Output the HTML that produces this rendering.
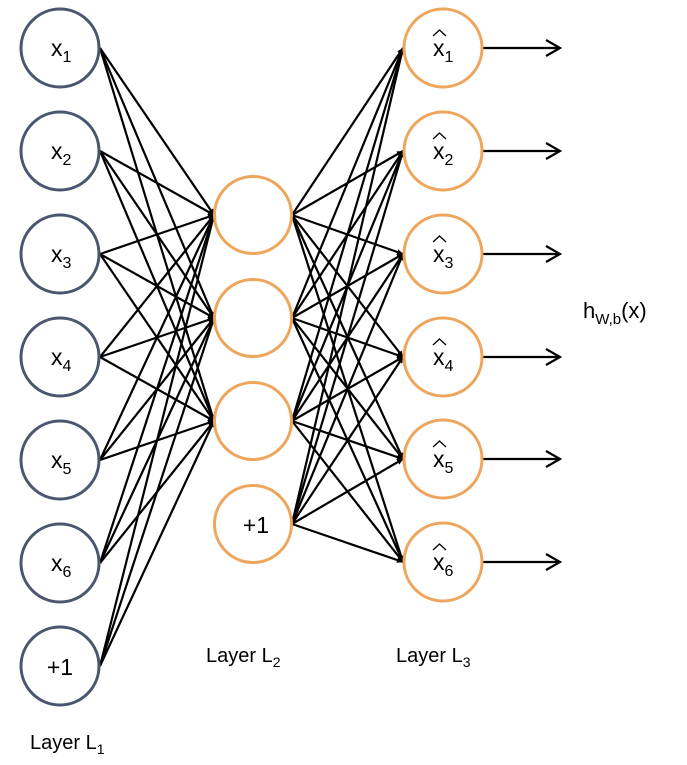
<!DOCTYPE html>
<html><head><meta charset="utf-8"><style>
html,body{margin:0;padding:0;background:#fff;}
svg{display:block;font-family:"Liberation Sans",sans-serif;}
</style></head><body>
<svg width="687" height="765" viewBox="0 0 687 765" xmlns="http://www.w3.org/2000/svg">
<defs>
<marker id="a" viewBox="0 0 10 10" refX="10" refY="5" markerWidth="6" markerHeight="6" orient="auto" markerUnits="userSpaceOnUse"><path d="M0,0 L10,5 L0,10 z" fill="#000"/></marker>
</defs>
<g stroke="#000" stroke-width="2.2" marker-end="url(#a)" markerWidth="0">
<!-- layer1 -> layer2 -->
<line x1="100" y1="48" x2="214" y2="215" marker-end="url(#a)"/><line x1="100" y1="48" x2="214" y2="318" marker-end="url(#a)"/><line x1="100" y1="48" x2="214" y2="421" marker-end="url(#a)"/>
<line x1="100" y1="151" x2="214" y2="215" marker-end="url(#a)"/><line x1="100" y1="151" x2="214" y2="318" marker-end="url(#a)"/><line x1="100" y1="151" x2="214" y2="421" marker-end="url(#a)"/>
<line x1="100" y1="254" x2="214" y2="215" marker-end="url(#a)"/><line x1="100" y1="254" x2="214" y2="318" marker-end="url(#a)"/><line x1="100" y1="254" x2="214" y2="421" marker-end="url(#a)"/>
<line x1="100" y1="357" x2="214" y2="215" marker-end="url(#a)"/><line x1="100" y1="357" x2="214" y2="318" marker-end="url(#a)"/><line x1="100" y1="357" x2="214" y2="421" marker-end="url(#a)"/>
<line x1="100" y1="460" x2="214" y2="215" marker-end="url(#a)"/><line x1="100" y1="460" x2="214" y2="318" marker-end="url(#a)"/><line x1="100" y1="460" x2="214" y2="421" marker-end="url(#a)"/>
<line x1="100" y1="563" x2="214" y2="215" marker-end="url(#a)"/><line x1="100" y1="563" x2="214" y2="318" marker-end="url(#a)"/><line x1="100" y1="563" x2="214" y2="421" marker-end="url(#a)"/>
<line x1="100" y1="666" x2="214" y2="215" marker-end="url(#a)"/><line x1="100" y1="666" x2="214" y2="318" marker-end="url(#a)"/><line x1="100" y1="666" x2="214" y2="421" marker-end="url(#a)"/>
<!-- layer2 -> layer3 -->
<line x1="292" y1="215" x2="403" y2="48"/><line x1="292" y1="215" x2="403" y2="151"/><line x1="292" y1="215" x2="403" y2="254"/><line x1="292" y1="215" x2="403" y2="357"/><line x1="292" y1="215" x2="403" y2="459"/><line x1="292" y1="215" x2="403" y2="562"/>
<line x1="292" y1="318" x2="403" y2="48"/><line x1="292" y1="318" x2="403" y2="151"/><line x1="292" y1="318" x2="403" y2="254"/><line x1="292" y1="318" x2="403" y2="357"/><line x1="292" y1="318" x2="403" y2="459"/><line x1="292" y1="318" x2="403" y2="562"/>
<line x1="292" y1="421" x2="403" y2="48"/><line x1="292" y1="421" x2="403" y2="151"/><line x1="292" y1="421" x2="403" y2="254"/><line x1="292" y1="421" x2="403" y2="357"/><line x1="292" y1="421" x2="403" y2="459"/><line x1="292" y1="421" x2="403" y2="562"/>
<line x1="292" y1="524" x2="403" y2="48"/><line x1="292" y1="524" x2="403" y2="151"/><line x1="292" y1="524" x2="403" y2="254"/><line x1="292" y1="524" x2="403" y2="357"/><line x1="292" y1="524" x2="403" y2="459"/><line x1="292" y1="524" x2="403" y2="562"/>
</g>
<!-- output arrows -->
<g stroke="#000" stroke-width="2.2" fill="none">
<path d="M483,48 H560 M546,40 L560,48 L546,56"/>
<path d="M483,151 H560 M546,143 L560,151 L546,159"/>
<path d="M483,254 H560 M546,246 L560,254 L546,262"/>
<path d="M483,357 H560 M546,349 L560,357 L546,365"/>
<path d="M483,459 H560 M546,451 L560,459 L546,467"/>
<path d="M483,562 H560 M546,554 L560,562 L546,570"/>
</g>
<!-- circles -->
<g fill="#fff" stroke="#4a5670" stroke-width="3">
<circle cx="60" cy="48" r="39"/><circle cx="60" cy="151" r="39"/><circle cx="60" cy="254" r="39"/><circle cx="60" cy="357" r="39"/><circle cx="60" cy="460" r="39"/><circle cx="60" cy="563" r="39"/><circle cx="60" cy="666" r="39"/>
</g>
<g fill="#fff" stroke="#eea55c" stroke-width="3">
<circle cx="253" cy="215" r="38.5"/><circle cx="253" cy="318" r="38.5"/><circle cx="253" cy="421" r="38.5"/><circle cx="253" cy="524" r="38.5"/>
<circle cx="443" cy="48" r="39"/><circle cx="443" cy="151" r="39"/><circle cx="443" cy="254" r="39"/><circle cx="443" cy="357" r="39"/><circle cx="443" cy="459" r="39"/><circle cx="443" cy="562" r="39"/>
</g>
<g font-size="23" fill="#000">
<text x="51" y="56">x<tspan font-size="16" dy="6">1</tspan></text>
<text x="51" y="159">x<tspan font-size="16" dy="6">2</tspan></text>
<text x="51" y="262">x<tspan font-size="16" dy="6">3</tspan></text>
<text x="51" y="365">x<tspan font-size="16" dy="6">4</tspan></text>
<text x="51" y="468">x<tspan font-size="16" dy="6">5</tspan></text>
<text x="51" y="571">x<tspan font-size="16" dy="6">6</tspan></text>
<text x="60" y="675" text-anchor="middle">+1</text>
<text x="256" y="533" text-anchor="middle">+1</text>
<text x="433" y="56">x<tspan font-size="16" dy="6">1</tspan></text>
<text x="433" y="159">x<tspan font-size="16" dy="6">2</tspan></text>
<text x="433" y="262">x<tspan font-size="16" dy="6">3</tspan></text>
<text x="433" y="365">x<tspan font-size="16" dy="6">4</tspan></text>
<text x="433" y="467">x<tspan font-size="16" dy="6">5</tspan></text>
<text x="433" y="570">x<tspan font-size="16" dy="6">6</tspan></text>
</g>
<g stroke="#000" stroke-width="1.3" fill="none">
<path d="M433,36 L439.5,30 L446,36"/><path d="M433,139 L439.5,133 L446,139"/><path d="M433,242 L439.5,236 L446,242"/>
<path d="M433,345 L439.5,339 L446,345"/><path d="M433,447 L439.5,441 L446,447"/><path d="M433,550 L439.5,544 L446,550"/>
</g>
<g font-size="20" fill="#000">
<text x="30" y="749">Layer L<tspan font-size="14" dy="5">1</tspan></text>
<text x="206" y="662">Layer L<tspan font-size="14" dy="5">2</tspan></text>
<text x="396" y="662">Layer L<tspan font-size="14" dy="5">3</tspan></text>
<text x="583" y="318" font-size="22">h<tspan font-size="15" dy="6">W,b</tspan><tspan dy="-6">(x)</tspan></text>
</g>
</svg>
</body></html>
